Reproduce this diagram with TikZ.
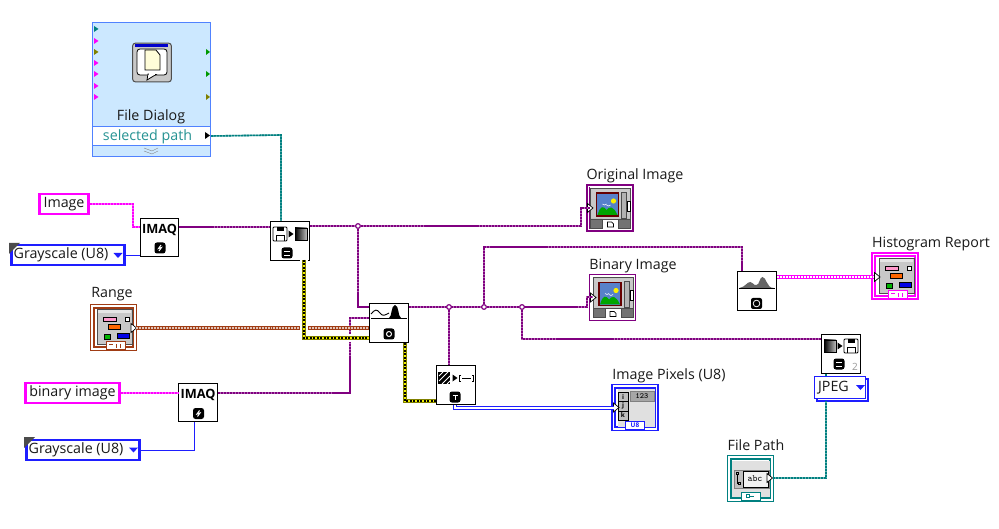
\documentclass[tikz,border=0pt]{standalone}
\usepackage{fontspec}
\setmainfont{Open Sans}
\definecolor{wpurple}{RGB}{128,0,128}
\definecolor{wpink}{RGB}{255,0,255}
\definecolor{wteal}{RGB}{0,128,128}
\definecolor{wbrown}{RGB}{160,60,20}
\definecolor{wyellow}{RGB}{240,240,0}
\definecolor{wolive}{RGB}{128,128,0}
\definecolor{wblue}{RGB}{30,30,255}
\definecolor{panelfill}{RGB}{200,200,200}
\definecolor{dialogfill}{RGB}{204,232,255}
\definecolor{dialogedge}{RGB}{80,130,255}
\tikzset{
  vi/.style={draw=black,line width=1pt,fill=white,minimum size=39pt,inner sep=0pt},
  lbl/.style={inner sep=0pt,yshift=-1.5pt,text=black!90,font=\fontsize{14.3}{16}\selectfont},
  ctrl/.style={draw=#1,line width=2.6pt,fill=white,inner sep=0pt,minimum height=20pt,font=\fontsize{14.3}{16}\selectfont,text=black!90},
  term/.style={draw=#1,line width=1.7pt,double=white,double distance=1.6pt,fill=white,inner sep=0pt,minimum size=43pt},
  junction/.style={circle,draw=wpurple,line width=1pt,fill=white,inner sep=0pt,minimum size=4.5pt},
  wimg/.style={draw=wpurple,line width=1.6pt,dash pattern=on 2.2pt off .8pt,preaction={draw=wpurple!60,line width=1.6pt}},
  wpk/.style={draw=wpink,line width=1.6pt,dash pattern=on 2.2pt off .8pt,preaction={draw=wpink!60,line width=1.6pt}},
  wpath/.style={draw=wteal,line width=1.6pt,dash pattern=on 2.2pt off .8pt,preaction={draw=wteal!60,line width=1.6pt}},
  wenum/.style={draw=wblue,line width=.9pt},
  wcluster/.style={draw=white!70!wbrown,line width=1.1pt,dash pattern=on 2pt off 1pt,preaction={draw=wbrown,line width=4.4pt}},
  wreport/.style={draw=white,line width=1.2pt,dash pattern=on 2pt off 1pt,preaction={draw=wpink,line width=4.2pt}},
  werror/.style={draw=black,line width=1.5pt,dash pattern=on 2pt off 1.5pt,
    preaction={draw=white,line width=7.5pt},preaction={draw=wolive,line width=4.4pt},preaction={draw=wyellow,line width=3pt}},
  warray/.style={draw=wblue,line width=1.1pt,double=white,double distance=1.1pt},
  % black badge at the foot of a VI
  pics/badge/.style={code={
    \fill[black,rounded corners=2.5pt] (-5.5,-5.5) rectangle (5.5,5.5);
    \draw[white,line width=1pt] #1;
  }},
  pics/floppy/.style={code={
    \draw[black,line width=.9pt,fill=white,rounded corners=1pt] (-7,-7) rectangle (7,7);
    \fill[black] (-3.5,-7) rectangle (3.5,-2.5);
    \draw[black,line width=.8pt] (-4,7) -- (-4,1.5) -- (4,1.5) -- (4,7);
  }},
  pics/fade/.style={code={
    \shade[left color=black,right color=black!25,draw=black,line width=1pt] (-6,-6) rectangle (6,6);
  }},
  pics/tip/.style={code={
    \fill[black] (-2.5,-3.5) -- (2.5,0) -- (-2.5,3.5) -- cycle;
  }},
  pics/wedge/.style={code={
    \draw[black,line width=.7pt,fill=white] (-2.5,-4.5) -- (3,0) -- (-2.5,4.5) -- cycle;
  }},
  % front panel glyph of a cluster
  pics/clusterglyph/.style={code={
    \draw[black!70,line width=.9pt,fill=panelfill] (-17,-18) rectangle (18,17);
    \fill[black!10] (-16,-17) rectangle (17,-14);
    \draw[black,fill=pink!80!magenta,line width=.6pt] (-11,-10) rectangle (2,-5.5);
    \draw[black,fill=white,line width=.6pt] (11,-10) rectangle (15,-5.5);
    \draw[black,fill=orange!80!red,line width=.6pt] (-6,-3) rectangle (6,2);
    \draw[black,fill=green!70!black,line width=.6pt] (-10,7) rectangle (-4,12);
    \draw[black,fill=blue!90!black,line width=.6pt] (3,6.5) rectangle (15,11.5);
    \draw[#1,fill=white,line width=1pt] (-8,14) rectangle (11,22.5);
    \draw[#1,line width=1pt] (-5,17) -- (-1,17) (2,17) -- (2,21) (6,17) -- (6,21);
  }},
  % front panel glyph of an image display
  pics/imageglyph/.style={code={
    \fill[white] (-21,-21) rectangle (21,21);
    \draw[black!70,line width=.9pt,fill=panelfill] (-20,-20) rectangle (20,11);
    \draw[black!70,line width=.8pt,fill=black!55] (-20,11) rectangle (-8,20) (8,11) rectangle (20,20);
    \fill[black!20] (-18,-18) rectangle (18,-15);
    \draw[black,line width=.7pt,fill=white] (-3,14) -- (1,14) -- (3,16) -- (3,19) -- (-3,19) -- cycle;
    \draw[black!70,fill=black!30,line width=.6pt] (11,-16) rectangle (16,10);
    \draw[black,line width=.8pt,fill=white] (17,-7) rectangle (20,3);
    \draw[red!40!black,line width=1.8pt,fill=cyan!40!blue!70] (-14,-15) rectangle (8,8);
    \fill[yellow] (3,-7) circle (2.6);
    \draw[white,line width=.6pt] (-8,-4) -- (-6,-3) -- (-4,-4) (-4,-3) -- (-2,-2) -- (0,-3);
    \fill[green!65!black] (-13,7) .. controls (-10,-3) and (-7,-2) .. (-4,2) .. controls (-1,-2) and (3,-2) .. (7,7) -- cycle;
  }},
  % row of parts across the top of a VI
  pics/mountains/.style={code={
    \fill[black!60] (-17,-2) .. controls (-11,-3) and (-10,-8) .. (-6,-8) .. controls (-3,-8) and (-3,-4) .. (0,-5) .. controls (3,-5) and (3,-13) .. (6,-13) .. controls (10,-13) and (10,-2) .. (17,-2) -- cycle;
    \draw[black,line width=1.2pt] (-18,-1.5) -- (18,-1.5);
  }},
}
\begin{document}
\begin{tikzpicture}[x=1bp,y=-1bp]
  \useasboundingbox[fill=white] (0,0) rectangle (999,529);

  % File Dialog express node
  \node[draw=dialogedge,fill=dialogfill,line width=1.2pt,minimum width=118bp,minimum height=134bp,inner sep=0pt] (dialog) at (151.5,89.5) {};
  \node[draw=dialogedge,fill=white,line width=1.2pt,minimum width=118bp,minimum height=19bp,inner sep=0pt,text=wteal!85,font=\fontsize{14.3}{16}\selectfont,text depth=.2ex] (selected) at (151.5,136) {\hspace{-8pt}selected path};
  \node[lbl] (dialoglbl) at (151,115) {File Dialog};
  \node[draw=black!70,line width=1pt,fill=panelfill,rounded corners=3pt,minimum width=39pt,minimum height=39pt,inner sep=0pt] (dialogicon) at (152,62.5) {};
  \fill[blue!80!black] (dialogicon.north west) ++(3,1) rectangle ++(33,3);
  \draw[black,line width=.8pt,fill=white,rounded corners=3pt] (137,49) rectangle (167,75);
  \fill[white,draw=black,line width=.8pt] (148,74) -- (147,80) -- (156,74.5) -- cycle;
  \fill[white] (148.5,73) rectangle (155,75);
  \draw[black,line width=.8pt,fill=yellow!15] (145,50) -- (156,50) -- (160,55) -- (160,70) -- (145,70) -- cycle;
  \draw[black!50] (144,151) -- (152,154) -- (158,151) (144,148) -- (152,151) -- (158,148);
  \foreach \ty/\tc in {29/wteal,41/wpink,52/wolive,63/wpink,74/wpink,86/wpink,97/wpink}
    \fill[\tc] (94,\ty-3) -- (98.5,\ty) -- (94,\ty+3) -- cycle;
  \foreach \ty/\tc in {52/green!60!black,74/green!60!black,97/wolive}
    \fill[\tc] (206,\ty-3) -- (210,\ty) -- (206,\ty+3) -- cycle;
  \pic at (207.5,135.5) {tip};

  % controls down the left side
  \node[ctrl=wpink,minimum width=49bp] (image) at (64,204) {Image};
  \node[ctrl=wblue,minimum width=113bp] (gray1) at (68,255) {\hspace{-14pt}Grayscale (U8)};
  \fill[black!70] (9,243) -- (20,243) -- (9,254) -- cycle;
  \fill[wblue] (113.5,253) -- (122.5,253) -- (118,258) -- cycle;
  \node[term=wbrown] (range) at (113.5,327.5) {};
  \pic at (114,327) {clusterglyph=wbrown};
  \pic at (133.5,328) {wedge};
  \node[lbl] (rangelbl) at (112,293) {Range};
  \node[ctrl=wpink,minimum width=94bp] (binary) at (72.5,393) {binary image};
  \node[ctrl=wblue,minimum width=113bp] (gray2) at (83,450) {\hspace{-14pt}Grayscale (U8)};
  \fill[black!70] (24,437) -- (35,437) -- (24,448) -- cycle;
  \fill[wblue] (129,447.5) -- (138,447.5) -- (133.5,452.5) -- cycle;

  % VIs along the wire
  \node[vi] (imaqa) at (159.5,237.5) {};
  \node[inner sep=0pt,font=\bfseries\fontsize{12.8}{14}\selectfont] (imaqatxt) at (159.5,230) {IMAQ};
  \pic at (160,248) {badge={(1,-3) -- (-1.5,0.5) -- (1.5,-0.5) -- (-1,3)}};
  \node[vi] (imaqb) at (198,402.5) {};
  \node[inner sep=0pt,font=\bfseries\fontsize{12.8}{14}\selectfont] (imaqbtxt) at (198,395) {IMAQ};
  \pic at (198.5,413.5) {badge={(1,-3) -- (-1.5,0.5) -- (1.5,-0.5) -- (-1,3)}};

  \node[vi] (readfile) at (290,241) {};
  \pic at (280,234) {floppy};
  \pic at (291,234) {tip};
  \pic at (301,234) {fade};
  \pic at (287,253) {badge={(-3,-2) -- (3,-2) (3,2) -- (-3,2)}};

  \node[vi] (threshold) at (389,323) {};
  \draw[black,line width=.9pt] (371,314) .. controls (375,309) and (377,309) .. (380,313) .. controls (383,317) and (385,315) .. (389,313);
  \fill[black] (389,318) .. controls (392,317) and (391,305) .. (395,305) .. controls (399,305) and (398,317) .. (401,318) -- cycle;
  \draw[black,line width=.9pt] (371,318.5) -- (407,318.5);
  \pic at (389,334) {badge={(0,0) circle (2.5)}};

  \node[vi] (toarray) at (456,385) {};
  \fill[black] (438,372) rectangle (450,384);
  \draw[white,line width=.9pt] (439,376) -- (443,372) (439,381) -- (448,372) (442,384) -- (450,376) (447,384) -- (450,381);
  \pic at (455,378) {tip};
  \draw[black,line width=.9pt] (461,375) -- (459.5,375) -- (459.5,381) -- (461,381) (472,375) -- (473.5,375) -- (473.5,381) -- (472,381) (462,378) -- (471,378);
  \pic at (455,397) {badge={(-2.5,-2) -- (2.5,-2) (0,-2) -- (0,3)}};

  \node[vi] (histogram) at (757,291) {};
  \pic at (756.5,290) {mountains};
  \fill[black,rounded corners=2pt] (751,298) rectangle (762,309);
  \draw[white,line width=.8pt] (756.5,303.5) circle (3.3);

  \node[vi] (writefile) at (841,354) {};
  \pic at (830,346) {fade};
  \pic at (840,346) {tip};
  \pic at (851,346) {floppy};
  \pic at (839,364) {badge={(-3,-2) -- (3,-2) (3,2) -- (-3,2)}};
  \node[inner sep=0pt,text=black!40,font=\fontsize{10}{11}\selectfont] (writetwo) at (855,367) {2};

  % indicators on the right
  \node[term=wpurple] (original) at (610,208) {};
  \pic at (610.5,208) {imageglyph};
  \pic at (590,208) {wedge};
  \node[lbl] (originallbl) at (635,174) {Original Image};
  \node[term=wpurple] (binimage) at (612.5,297.5) {};
  \pic at (613,297.5) {imageglyph};
  \pic at (593,297.5) {wedge};
  \node[lbl] (binimagelbl) at (633,264) {Binary Image};
  \node[term=wpink] (report) at (895,276) {};
  \pic at (896,276) {clusterglyph=wpink};
  \pic at (877,277) {wedge};
  \node[lbl] (reportlbl) at (931,242) {Histogram Report};
  \node[term=wblue] (pixels) at (635,407.5) {};
  \fill[black!12] (618,389) rectangle (655,427);
  \node[lbl] (pixelslbl) at (669,374) {Image Pixels (U8)};
  \draw[black,line width=.8pt,fill=black!25] (618,392) rectangle (628,401.5) (618,401.5) rectangle (628,411) (618,411) rectangle (628,420.5);
  \node[inner sep=0pt,font=\bfseries\fontsize{6.5}{7}\selectfont] (pixi) at (623,397) {i};
  \node[inner sep=0pt,font=\bfseries\fontsize{6.5}{7}\selectfont] (pixj) at (623,406) {j};
  \node[inner sep=0pt,font=\bfseries\fontsize{6.5}{7}\selectfont] (pixk) at (623,415.5) {k};
  \node[draw=black!50,fill=black!35,inner sep=0pt,minimum width=24pt,minimum height=10pt,font=\ttfamily\bfseries\fontsize{8}{9}\selectfont] (pixnum) at (642,396.5) {123};
  \node[draw=wblue,fill=white,line width=1pt,inner sep=0pt,minimum width=19pt,minimum height=8pt,text=wblue,font=\bfseries\fontsize{6.5}{7}\selectfont] (pixtype) at (635,425.5) {U8};
  \pic at (616,407.5) {wedge};

  \node[ctrl=wblue,line width=1.3pt,minimum width=51bp,minimum height=22bp] (jpegback) at (842.5,390) {};
  \node[ctrl=wblue,line width=1.3pt,minimum width=51bp,minimum height=22bp] (jpeg) at (840,387.5) {\hspace{-13pt}JPEG};
  \fill[wblue] (856,385) -- (865,385) -- (860.5,390) -- cycle;

  \node[term=wteal] (filepath) at (750.5,478.5) {};
  \fill[black!12] (732,461) rectangle (770,497);
  \draw[black!50,fill=black!25,line width=.8pt] (734,470) rectangle (769,488);
  \draw[black,line width=.8pt,fill=black!5] (743,471) rectangle (768,487);
  \node[inner sep=0pt,font=\ttfamily\fontsize{9.5}{10}\selectfont] (abc) at (755,479) {abc};
  \draw[black,line width=.7pt] (736,472) rectangle (738,474) (738,482) rectangle (740,484) (737,474) -- (737,483) -- (738,483);
  \draw[wteal,fill=white,line width=1pt] (741,492) rectangle (760,500);
  \draw[wteal,line width=.8pt] (746,494) rectangle (749,497) (749,496) -- (754,496);
  \pic at (769.5,478) {wedge};
  \node[lbl] (filepathlbl) at (756,444) {File Path};

  % junctions and wire ends
  \coordinate (imaqain) at (imaqa.west |- 0,227);
  \coordinate (imaqaout) at (imaqa.east |- 0,227);
  \coordinate (readin) at (readfile.west |- 0,227);
  \coordinate (readout) at (readfile.east |- 0,226);
  \coordinate (readpath) at (281,221);
  \coordinate (readerr) at (304,260);
  \node[junction] (jtop) at (358,226) {};
  \coordinate (origin) at (590,208);
  \coordinate (threshsrc) at (threshold.west |- 0,307);
  \coordinate (threshdst) at (threshold.west |- 0,318);
  \coordinate (threshrange) at (threshold.west |- 0,328);
  \coordinate (thresherr) at (threshold.west |- 0,338);
  \coordinate (threshout) at (threshold.east |- 0,307);
  \coordinate (thresherrout) at (405,343);
  \node[junction] (jarray) at (449,307) {};
  \node[junction] (jhist) at (484,307) {};
  \node[junction] (jwrite) at (522,307) {};
  \coordinate (binin) at (593,297);
  \coordinate (arrayin) at (449,365);
  \coordinate (arrayerr) at (436,401);
  \coordinate (arrayout) at (455,405);
  \coordinate (pixin) at (614,408);
  \coordinate (histin) at (742,271);
  \coordinate (histout) at (777,277);
  \coordinate (reportin) at (874,277);
  \coordinate (writein) at (821,339);
  \coordinate (rangeout) at (136,328);
  \coordinate (pathin) at (826,401);
  \coordinate (pathout) at (773,478);

  % wires
  \draw[wpk] (image.east) -- (133,204) -- (133,227) -- (imaqain);
  \draw[wenum] (gray1.east) -- (imaqa.west |- gray1.east);
  \draw[wpath] (selected.east) -- (281,135) -- (readpath);
  \draw[wimg] (imaqaout) -- (readin);
  \draw[wimg] (readout) -- (581,226) -- (581,208) -- (origin);
  \draw[wpk] (binary.east) -- (imaqb.west |- binary.east);
  \draw[wenum] (gray2.east) -- (194,450) -- (194,422);
  \draw[wimg] (imaqb.east |- binary.east) -- (350,393) -- (350,318) -- (threshdst);
  \draw[wimg] (jtop) -- (358,307) -- (threshsrc);
  \draw[wimg] (threshout) -- (587,307) -- (587,297) -- (binin);
  \draw[wimg] (jarray) -- (arrayin);
  \draw[wimg] (jhist) -- (484,247) -- (742,247) -- (histin);
  \draw[wimg] (jwrite) -- (522,339) -- (writein);
  \draw[wcluster] (rangeout) -- (threshrange);
  \draw[werror] (readerr) -- (304,338) -- (thresherr);
  \draw[werror] (thresherrout) -- (405,401) -- (arrayerr);
  \draw[warray] (arrayout) -- (455,408) -- (pixin);
  \draw[wreport] (histout) -- (reportin);
  \draw[wpath] (pathout) -- (826,478) -- (pathin);
  \draw[wpath] (jpeg.north -| pathin) -- (writefile.south -| pathin);
  \foreach \jn in {jtop,jarray,jhist,jwrite}
    \node[junction] at (\jn) {};
\end{tikzpicture}
\end{document}
